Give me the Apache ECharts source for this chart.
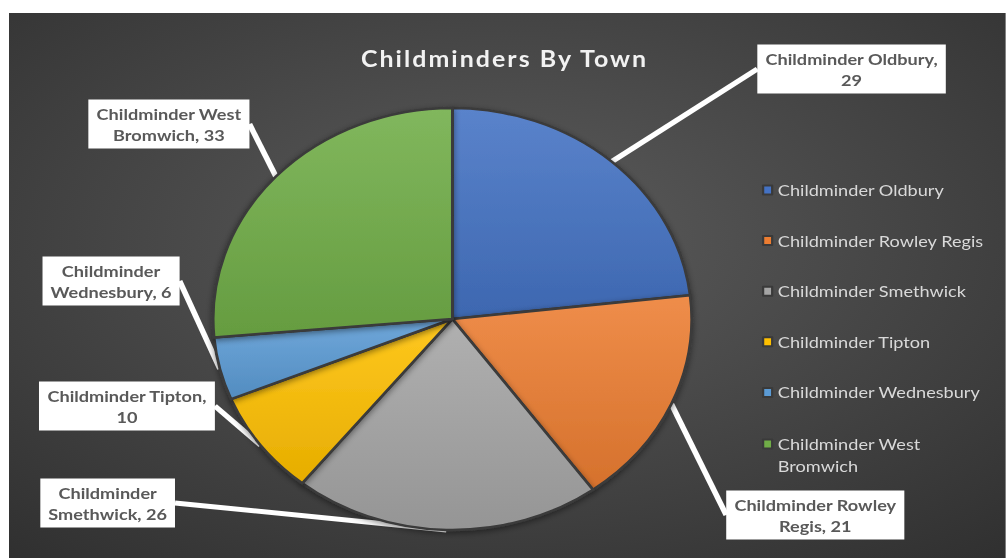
<!DOCTYPE html>
<html><head><meta charset="utf-8">
<script src="https://cdn.jsdelivr.net/npm/echarts@6/dist/echarts.min.js"></script>
<style>
html,body{margin:0;padding:0;background:#fff;width:1006px;height:558px;overflow:hidden}
#chart{position:absolute;left:9px;top:13px;width:879px;height:545px;transform:scaleX(1.134);transform-origin:0 0}
</style></head><body><div id="chart"></div>
<script>
const chartTitle = 'Childminders By Town';
const categories = ['Childminder Oldbury','Childminder Rowley Regis','Childminder Smethwick','Childminder Tipton','Childminder Wednesbury','Childminder West Bromwich'];
const values = [29, 21, 26, 10, 6, 33];
const palette = ['#4472C4','#ED7D31','#A5A5A5','#FFC000','#5B9BD5','#70AD47'];
const labelFirstLineWords = [2, 2, 1, 2, 1, 2];
const labelCenters = [[743,56],[711,502],[87,490],[104,393],[90,268],[141,111]];

function shade(hex, amt){
  const n = parseInt(hex.slice(1),16);
  let r=(n>>16)&255,g=(n>>8)&255,b=n&255;
  const f = v => Math.max(0,Math.min(255,Math.round(amt>0? v+(255-v)*amt : v*(1+amt))));
  return 'rgb('+f(r)+','+f(g)+','+f(b)+')';
}
function labelText(i){
  const words = (categories[i] + ', ' + values[i]).split(' ');
  const k = labelFirstLineWords[i];
  return words.slice(0,k).join(' ') + '\n' + words.slice(k).join(' ');
}

const chart = echarts.init(document.getElementById('chart'), null, {renderer:'svg'});
const pieData = categories.map((c,i)=>({
  name:c, value:values[i],
  itemStyle:{color:new echarts.graphic.LinearGradient(0,0,0,1,[
    {offset:0,color:shade(palette[i],0.12)},{offset:1,color:shade(palette[i],-0.1)}])}
}));
const legendText = {color:'#d9d9d9', fontSize:16, fontFamily:'Lato', lineHeight:22};
chart.setOption({
  animation:false,
  backgroundColor:{type:'radial',x:0.5,y:0.42,r:0.95,colorStops:[
    {offset:0,color:'#5c5c5c'},{offset:0.55,color:'#3e3e3e'},{offset:1,color:'#252525'}]},
  title:{text:chartTitle,left:432,top:30,textAlign:'center',
    textStyle:{color:'#f2f2f2',fontSize:22,fontWeight:'bold',fontFamily:'Lato'}},
  legend:[{
    orient:'vertical',left:664,top:166,padding:0,itemWidth:8,itemHeight:9,itemGap:28.6,
    icon:'rect',textStyle:legendText,selectedMode:false,
    data:categories.slice(0,5).map((c,i)=>({name:c,itemStyle:{color:palette[i]}}))
  },{
    orient:'vertical',left:664,top:419,padding:0,itemWidth:8,itemHeight:44,
    icon:'path://M0,0M0,6.5h8v9h-8zM0,44',textStyle:legendText,selectedMode:false,
    formatter:n=>{const w=n.split(' ');return w.slice(0,2).join(' ')+'\n'+w.slice(2).join(' ');},
    data:[{name:categories[5],itemStyle:{color:palette[5]}}]
  }],
  series:[{
    type:'pie',center:[391,306],radius:211,startAngle:90,clockwise:true,
    avoidLabelOverlap:false,
    emphasis:{scale:false},
    itemStyle:{borderColor:'#3a3a3a',borderWidth:2.5,shadowBlur:6,shadowOffsetY:2,shadowColor:'rgba(0,0,0,0.45)'},
    label:{show:true,position:'outside',formatter:p=>labelText(p.dataIndex),
      color:'#595959',fontSize:16,fontWeight:'bold',fontFamily:'Lato',lineHeight:21,
      backgroundColor:'#ffffff',padding:[4,7,3,7],align:'center'},
    labelLine:{show:true,length:10,length2:0,lineStyle:{color:'#ffffff',width:5,shadowBlur:0,shadowColor:'transparent',shadowOffsetY:0}},
    labelLayout:p=>({x:labelCenters[p.dataIndex][0],y:labelCenters[p.dataIndex][1],align:'center',verticalAlign:'middle'}),
    data:pieData
  }]
});
function spaceTitle(){
  document.querySelectorAll('#chart text').forEach(t=>{
    if(t.textContent===chartTitle){t.setAttribute('letter-spacing','1.8');t.style.letterSpacing='1.8px';}
  });
}
chart.on('finished', spaceTitle);
spaceTitle();
setTimeout(spaceTitle, 50);
</script></body></html>
